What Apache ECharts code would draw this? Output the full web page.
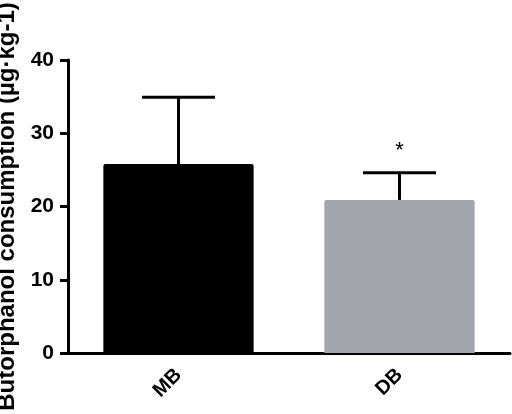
<!DOCTYPE html>
<html><head><meta charset="utf-8">
<script src="https://cdn.jsdelivr.net/npm/echarts@6/dist/echarts.min.js"></script>
<style>html,body{margin:0;padding:0;background:#fff}#c{width:512px;height:414px}</style>
</head><body><div id="c"></div>
<script>
const categories = ['MB', 'DB'];
const means = [25.8, 20.9];
const errorTops = [34.9, 24.6];
const significance = ['', '*'];
const yTicks = [0, 10, 20, 30, 40];

const chart = echarts.init(document.getElementById('c'));
const font = 'Liberation Sans, Arial, sans-serif';
chart.setOption({
  animation: false,
  grid: { left: 68, right: 2, top: 60, bottom: 61, containLabel: false, outerBoundsMode: 'none' },
  xAxis: {
    type: 'category', data: categories,
    axisLine: { lineStyle: { color: '#000', width: 3 } },
    axisTick: { alignWithLabel: true, length: 9, lineStyle: { color: '#000', width: 3 } },
    axisLabel: { rotate: 45, fontFamily: font, fontWeight: 'bold', fontSize: 20, color: '#000', margin: 19 }
  },
  yAxis: {
    type: 'value', min: yTicks[0], max: yTicks[yTicks.length - 1], interval: 10,
    name: 'Butorphanol consumption (µg·kg-1)', nameLocation: 'middle', nameGap: 44,
    nameTextStyle: { fontFamily: font, fontWeight: 'bold', fontSize: 24, color: '#000' },
    splitLine: { show: false },
    axisLine: { show: true, lineStyle: { color: '#000', width: 3 } },
    axisTick: { show: true, length: 8, lineStyle: { color: '#000', width: 3 } },
    axisLabel: { fontFamily: font, fontWeight: 'bold', fontSize: 21, color: '#000', margin: 14 }
  },
  series: [
    {
      type: 'bar', barWidth: '68%',
      data: means.map((v, i) => ({ value: v, itemStyle: { color: i === 0 ? '#000000' : '#a2a5ab', borderRadius: [2, 2, 0, 0] } })),
      z: 2
    },
    {
      type: 'custom', z: 3,
      data: categories.map((c, i) => [i, means[i], errorTops[i]]),
      renderItem: function (params, api) {
        const base = api.coord([api.value(0), api.value(1)]);
        const top = api.coord([api.value(0), api.value(2)]);
        const hw = 36.5;
        return {
          type: 'group', children: [
            { type: 'line', shape: { x1: base[0], y1: base[1], x2: top[0], y2: top[1] }, style: { stroke: '#000', lineWidth: 3 } },
            { type: 'line', shape: { x1: top[0] - hw, y1: top[1], x2: top[0] + hw, y2: top[1] }, style: { stroke: '#000', lineWidth: 3 } }
          ]
        };
      }
    },
    {
      type: 'custom', z: 4,
      data: categories.map((c, i) => [i, errorTops[i]]),
      renderItem: function (params, api) {
        const i = params.dataIndex;
        const p = api.coord([api.value(0), api.value(1)]);
        return {
          type: 'text',
          style: { text: significance[i], x: p[0], y: p[1] - 22, fill: '#000', fontSize: 22, fontFamily: font, align: 'center', verticalAlign: 'middle' }
        };
      }
    }
  ]
});
</script></body></html>
